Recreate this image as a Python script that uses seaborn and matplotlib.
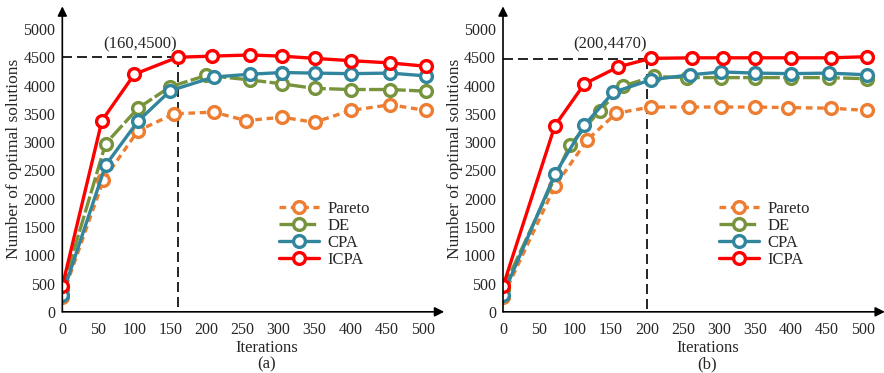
"""Convergence of the number of optimal solutions, panels (a) and (b)."""

import pandas as pd
import matplotlib.pyplot as plt
import seaborn as sns

# panel (a)
ITER_A = {
    "Pareto": [0, 57, 105, 155, 210, 255, 305, 350, 400, 455, 505],
    "DE": [0, 60, 105, 150, 200, 260, 305, 350, 400, 455, 505],
    "CPA": [0, 60, 105, 150, 210, 260, 305, 350, 400, 455, 505],
    "ICPA": [0, 55, 100, 160, 208, 260, 305, 350, 400, 455, 505],
}
VALS_A = {
    "Pareto": [270, 2330, 3200, 3500, 3530, 3380, 3440, 3350, 3560, 3660, 3560],
    "DE": [400, 2970, 3600, 3980, 4180, 4100, 4030, 3950, 3930, 3930, 3900],
    "CPA": [300, 2590, 3370, 3910, 4150, 4200, 4230, 4220, 4210, 4220, 4170],
    "ICPA": [450, 3380, 4200, 4500, 4520, 4540, 4520, 4480, 4440, 4400, 4340],
}
# panel (b)
ITER_B = {
    "Pareto": [0, 72, 117, 157, 205, 258, 303, 350, 395, 455, 505],
    "DE": [0, 93, 134, 166, 209, 255, 303, 350, 400, 452, 505],
    "CPA": [0, 72, 113, 153, 205, 260, 303, 350, 400, 452, 505],
    "ICPA": [0, 72, 113, 160, 205, 262, 305, 350, 400, 455, 505],
}
VALS_B = {
    "Pareto": [270, 2220, 3040, 3510, 3620, 3620, 3620, 3620, 3610, 3600, 3560],
    "DE": [400, 2950, 3550, 3990, 4160, 4140, 4140, 4140, 4140, 4140, 4120],
    "CPA": [300, 2430, 3300, 3880, 4100, 4190, 4240, 4220, 4210, 4220, 4190],
    "ICPA": [450, 3290, 4030, 4330, 4480, 4490, 4490, 4490, 4490, 4490, 4510],
}
MARK_A = (160, 4500)
MARK_B = (200, 4470)

X_TICKS = [0, 50, 100, 150, 200, 250, 300, 350, 400, 450, 500]
Y_TICKS = [0, 500, 1000, 1500, 2000, 2500, 3000, 3500, 4000, 4500, 5000]

SERIES = ["Pareto", "DE", "CPA", "ICPA"]
COLORS = {"Pareto": "#ED7D31", "DE": "#77933C", "CPA": "#31859C", "ICPA": "#FF0000"}
STYLES = {"Pareto": (0, (2, 1.4)), "DE": (0, (5, 1)), "CPA": "-", "ICPA": "-"}

FONT = "Liberation Serif"


def to_frame(iters, vals):
    rows = []
    for name in SERIES:
        for x, y in zip(iters[name], vals[name]):
            rows.append({"series": name, "iteration": x, "value": y})
    return pd.DataFrame(rows)


def draw_panel(fig, left, iters, vals, mark, tag):
    ax = fig.add_axes([left, 0.164, 0.432, 0.819])
    df = to_frame(iters, vals)
    for name in SERIES:
        sub = df[df["series"] == name]
        sns.lineplot(
            data=sub, x="iteration", y="value", ax=ax,
            color=COLORS[name], linestyle=STYLES[name], linewidth=2.4,
            marker="o", markersize=8.5, markerfacecolor="white",
            markeredgecolor=COLORS[name], markeredgewidth=2.4,
            label=name, zorder=3,
        )

    ax.set_xlim(0, 530)
    ax.set_ylim(0, 5400)
    for side in ["top", "right", "left", "bottom"]:
        ax.spines[side].set_visible(False)
    ax.annotate("", xy=(0, 1), xytext=(0, 0), xycoords="axes fraction",
                arrowprops=dict(arrowstyle="-|>", color="black", lw=1.2,
                                mutation_scale=14, shrinkA=0, shrinkB=0))
    ax.annotate("", xy=(1, 0), xytext=(0, 0), xycoords="axes fraction",
                arrowprops=dict(arrowstyle="-|>", color="black", lw=1.2,
                                mutation_scale=14, shrinkA=0, shrinkB=0))

    ax.set_xticks(X_TICKS)
    ax.set_yticks(Y_TICKS)
    ax.set_xticklabels([str(t) for t in X_TICKS], fontfamily=FONT, fontsize=11.5)
    ax.set_yticklabels([str(t) for t in Y_TICKS], fontfamily=FONT, fontsize=11.5)
    ax.tick_params(axis="x", direction="in", length=4, width=1.1, pad=7)
    ax.tick_params(axis="y", direction="out", length=4, width=1.1, pad=1)
    ax.set_xlabel("Iterations", fontfamily=FONT, fontsize=12, labelpad=-1)
    ax.xaxis.set_label_coords(0.535, -0.092)
    ax.set_ylabel("Number of optimal solutions", fontfamily=FONT, fontsize=12.5, labelpad=1)
    ax.text(0.535, -0.172, tag, transform=ax.transAxes, ha="center", va="center",
            fontfamily=FONT, fontsize=12)

    mx, my = mark
    ax.plot([0, mx], [my, my], color="black", lw=1.2, linestyle=(0, (6, 3)), zorder=2)
    ax.plot([mx, mx], [my, 0], color="black", lw=1.2, linestyle=(0, (6, 3)), zorder=2)
    ax.text(mx - 52, 4720, f"({mx},{my})", ha="center", va="center",
            fontfamily=FONT, fontsize=12)

    ax.legend(loc="upper left", bbox_to_anchor=(0.545, 0.39), frameon=False,
              prop={"family": FONT, "size": 12}, handlelength=2.4,
              labelspacing=0.05, borderpad=0, handletextpad=0.5)
    ax.grid(False)
    return ax


def main():
    sns.set_style("white")
    fig = plt.figure(figsize=(8.84, 3.73), dpi=100)
    draw_panel(fig, 0.0705, ITER_A, VALS_A, MARK_A, "(a)")
    draw_panel(fig, 0.569, ITER_B, VALS_B, MARK_B, "(b)")
    fig.savefig("out.png", dpi=100)
    plt.close(fig)


if __name__ == "__main__":
    main()
